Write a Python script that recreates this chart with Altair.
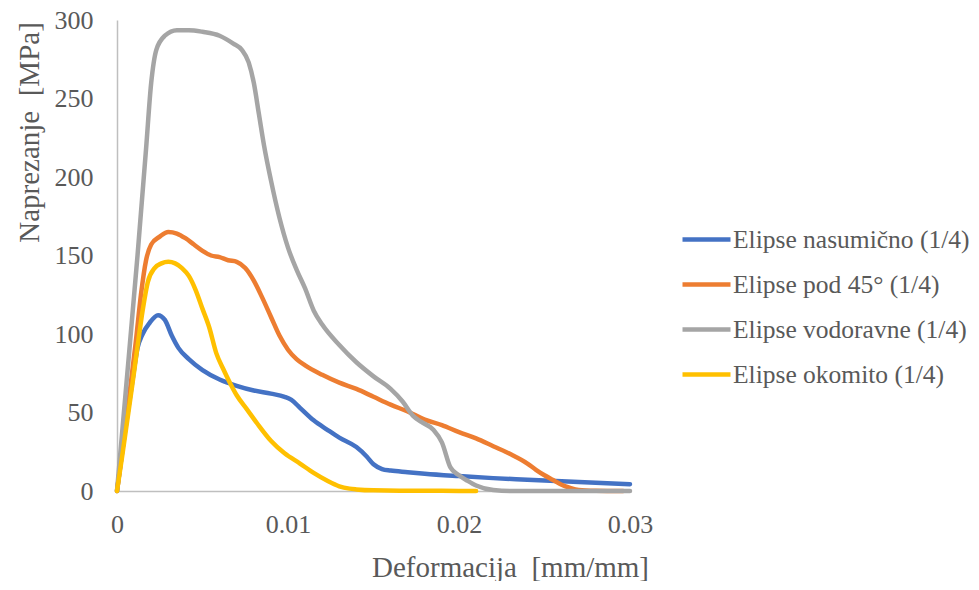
import altair as alt
import pandas as pd

# ---- data ----
names = ["Elipse nasumično (1/4)", "Elipse pod 45° (1/4)",
         "Elipse vodoravne (1/4)", "Elipse okomito (1/4)"]
colors = ["#4472C4", "#ED7D31", "#A5A5A5", "#FFC000"]

blue_x = [0, 0.0003, 0.0006, 0.0009, 0.0012, 0.0015, 0.0019, 0.0024, 0.0028, 0.0032,
          0.0036, 0.0042, 0.005, 0.006, 0.007, 0.008, 0.009, 0.0098, 0.0102, 0.0107,
          0.0115, 0.0123, 0.013, 0.014, 0.0146, 0.015, 0.0155, 0.016, 0.017, 0.018,
          0.020, 0.022, 0.024, 0.026, 0.028, 0.030]
blue_y = [0, 25, 48, 70, 91, 100, 107, 112, 109, 99,
          91, 84, 77, 71, 67, 64, 62, 60, 58, 53,
          45, 39, 34, 28, 22, 17, 14, 13, 12, 11,
          9.5, 8.2, 7.2, 6.2, 5.2, 4.3]

orange_x = [0, 0.0004, 0.0008, 0.0011, 0.0014, 0.0017, 0.002, 0.0025, 0.003, 0.0035,
            0.004, 0.0045, 0.005, 0.0055, 0.006, 0.0065, 0.007, 0.0075, 0.008, 0.0085,
            0.009, 0.0095, 0.010, 0.0105, 0.011, 0.012, 0.013, 0.014, 0.015, 0.016,
            0.017, 0.018, 0.019, 0.020, 0.021, 0.022, 0.023, 0.024, 0.0245, 0.025,
            0.0255, 0.026, 0.0265, 0.027, 0.028, 0.0296]
orange_y = [0, 33, 68, 95, 125, 147, 157, 162, 165, 164,
            161, 157, 153, 150, 149, 147, 146, 142, 134, 123,
            111, 99, 90, 84, 80, 74, 69, 65, 60, 55,
            50.6, 45.5, 42, 37.5, 33.5, 28.5, 23.5, 17.5, 13.5, 10,
            7, 4, 2, 0.7, 0.2, 0]

gray_x = [0, 0.0005, 0.0012, 0.0017, 0.002, 0.0023, 0.0028, 0.0035, 0.0042, 0.005,
          0.006, 0.0068, 0.0073, 0.0077, 0.008, 0.0083, 0.0086, 0.009, 0.0095, 0.010,
          0.0105, 0.011, 0.0115, 0.012, 0.013, 0.014, 0.015, 0.016, 0.0167, 0.0173,
          0.0178, 0.0185, 0.019, 0.0195, 0.020, 0.0205, 0.021, 0.022, 0.023, 0.030]
gray_y = [0, 62, 150, 218, 260, 281, 290, 293.5, 293.5, 292.5,
          290, 285, 281, 273, 260, 240, 220, 198, 174, 155,
          141, 129, 115, 106, 93, 82, 73, 65, 57, 48,
          44, 39, 31, 15, 10, 6.5, 3.5, 0.6, 0, 0]

yellow_x = [0, 0.0003, 0.0006, 0.0009, 0.0012, 0.0015, 0.0018, 0.0022, 0.0026, 0.003,
            0.0034, 0.0038, 0.0042, 0.0046, 0.005, 0.0054, 0.0058, 0.0062, 0.0066, 0.007,
            0.0076, 0.0082, 0.009, 0.0098, 0.0107, 0.0115, 0.0123, 0.013, 0.0136, 0.014,
            0.015, 0.017, 0.019, 0.021]
yellow_y = [0, 22, 45, 68, 92, 115, 133, 142, 145, 146,
            145, 142, 137, 128, 116, 104, 88, 78, 69, 61,
            52, 43, 32, 24, 17.5, 11.5, 6.5, 3, 1.5, 1,
            0.4, 0.2, 0.1, 0]

x_ticks = [0, 0.01, 0.02, 0.03]
y_ticks = [0, 50, 100, 150, 200, 250, 300]

series = [(names[0], blue_x, blue_y), (names[1], orange_x, orange_y),
          (names[2], gray_x, gray_y), (names[3], yellow_x, yellow_y)]
rows = []
for nm, xs, ys in series:
    for xv, yv in zip(xs, ys):
        rows.append({"series": nm, "x": xv, "y": yv})
df = pd.DataFrame(rows)

FONT = "Liberation Serif"
TXT = "#595959"

base = alt.Chart(df).mark_line(
    strokeWidth=4.5, interpolate="monotone", strokeCap="round", strokeJoin="round"
).encode(
    x=alt.X("x:Q",
            scale=alt.Scale(domain=[0, 0.03], nice=False),
            axis=alt.Axis(values=x_ticks, format="~g", title="Deformacija\u00a0 [mm/mm]",
                          labelFlush=False, labelPadding=20,
                          titleX=393, titleY=76, titleAlign="center", titleBaseline="middle")),
    y=alt.Y("y:Q",
            scale=alt.Scale(domain=[0, 300], nice=False),
            axis=alt.Axis(values=y_ticks, format="d", title="Naprezanje\u00a0 [MPa]",
                          labelFlush=False, labelPadding=24,
                          titleX=-88, titleY=112, titleAlign="center", titleBaseline="middle")),
    color=alt.Color("series:N",
                    scale=alt.Scale(domain=names, range=colors),
                    legend=alt.Legend(title=None, orient="none", legendX=563, legendY=193,
                                      symbolType="stroke", symbolSize=2304,
                                      symbolStrokeWidth=4.5, labelOffset=0,
                                      labelLimit=400, rowPadding=5, padding=0)),
)

layers = [base.transform_filter(alt.datum.series == nm) for nm in names]

chart = alt.layer(*layers).properties(
    width=513, height=471,
    autosize=alt.AutoSizeParams(type="none"),
    padding={"left": 109, "top": 12, "right": 340, "bottom": 90},
).configure_view(stroke=None).configure_axis(
    grid=False, ticks=False,
    domainColor="#BFBFBF", domainWidth=1.5,
    labelFont=FONT, labelFontSize=26, labelColor=TXT,
    titleFont=FONT, titleFontSize=29, titleColor=TXT, titleFontWeight="normal",
).configure_legend(
    labelFont=FONT, labelFontSize=25.5, labelColor=TXT, labelLimit=400,
).configure_text(font=FONT)

chart.save("out.html", embed_options={"renderer": "svg", "actions": False})
